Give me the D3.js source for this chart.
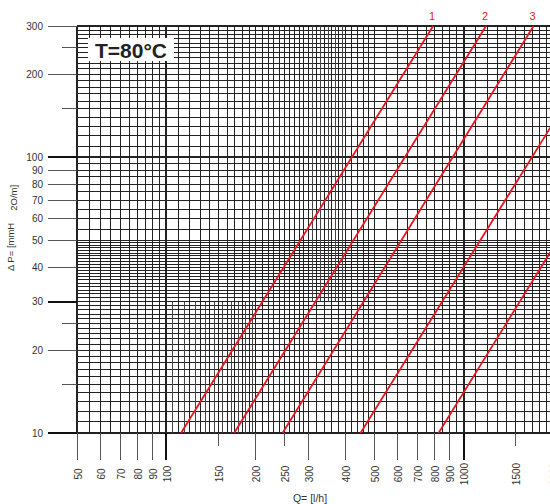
<!DOCTYPE html>
<html>
<head>
<meta charset="utf-8">
<script src="https://cdn.jsdelivr.net/npm/d3@7"></script>
<style>
  body { margin: 0; background: #fff; }
  svg { display: block; font-family: "Liberation Sans", Arial, sans-serif; }
</style>
</head>
<body>
<script>
// Pressure drop chart, log-log, T=80°C

const qTicks = [50, 60, 70, 80, 90, 100, 150, 200, 250, 300, 400, 500, 600, 700, 800, 900, 1000, 1500, 2000];
const qShortTicks = [150, 250, 1500];
const dpTicks = [10, 20, 30, 40, 50, 60, 70, 80, 90, 100, 200, 300];
const dpShortTicks = [15, 25, 150, 250];
const dpStrongTicks = [10, 30, 100];

// grid spacing per band: [from, to, step]
const qGridBands = [[50, 100, 5], [100, 300, 10], [300, 500, 20], [500, 1000, 50], [1000, 2000, 100]];
const qGridLowerBands = [[105, 195, 10]];   // extra lines, dP 10..30
const qGridUpperBands = [[310, 390, 20]];   // extra lines, dP 30..300
const dpGridBands = [[10, 50, 1], [50, 100, 5], [100, 300, 10]];

const curveLabels = ["1", "2", "3", "4", "5"];
const curveStart = [[112, 10], [169, 10], [246, 10], [450, 10], [824, 10]];
const curveEnd = [[790, 300], [1190, 300], [1720, 300], [2000, 133], [2000, 47]];

const width = 550, height = 504;
const plotLeft = 77, plotRight = 553, plotTop = 26, plotBottom = 433;

const svg = d3.select("body").append("svg")
  .attr("width", width)
  .attr("height", height);

const x = d3.scaleLog().domain([50, 2000]).range([plotLeft, plotRight]);
const y = d3.scaleLog().domain([10, 300]).range([plotBottom, plotTop]);

function bandValues(bands) {
  const vals = [];
  bands.forEach(([a, b, s]) => {
    d3.range(a, b + 0.001, s).forEach((v) => vals.push(v));
  });
  return Array.from(new Set(vals));
}

const grid = svg.append("g").attr("shape-rendering", "crispEdges");

// horizontal grid
grid.selectAll("line.h")
  .data(bandValues(dpGridBands))
  .enter().append("line")
  .attr("class", "h")
  .attr("x1", plotLeft).attr("x2", plotRight)
  .attr("y1", (d) => y(d)).attr("y2", (d) => y(d))
  .attr("stroke", "#222")
  .attr("stroke-width", (d) => (d === 10 || d === 100 || d === 300 ? 2 : 1));

// vertical grid
grid.selectAll("line.v")
  .data(bandValues(qGridBands))
  .enter().append("line")
  .attr("class", "v")
  .attr("x1", (d) => x(d)).attr("x2", (d) => x(d))
  .attr("y1", plotTop).attr("y2", plotBottom)
  .attr("stroke", "#222")
  .attr("stroke-width", (d) => (d === 50 || d === 100 || d === 1000 ? 2 : 1));

grid.selectAll("line.vl")
  .data(bandValues(qGridLowerBands))
  .enter().append("line")
  .attr("class", "vl")
  .attr("x1", (d) => x(d)).attr("x2", (d) => x(d))
  .attr("y1", y(30)).attr("y2", plotBottom)
  .attr("stroke", "#444")
  .attr("stroke-width", 1);

grid.selectAll("line.vu")
  .data(bandValues(qGridUpperBands))
  .enter().append("line")
  .attr("class", "vu")
  .attr("x1", (d) => x(d)).attr("x2", (d) => x(d))
  .attr("y1", plotTop).attr("y2", y(30))
  .attr("stroke", "#444")
  .attr("stroke-width", 1);

// x ticks below plot
svg.selectAll("line.xt")
  .data(qTicks)
  .enter().append("line")
  .attr("class", "xt")
  .attr("shape-rendering", "crispEdges")
  .attr("x1", (d) => x(d)).attr("x2", (d) => x(d))
  .attr("y1", plotBottom)
  .attr("y2", (d) => (qShortTicks.includes(d) ? 446 : 460))
  .attr("stroke", (d) => (d === 100 || d === 1000 ? "#111" : "#555"))
  .attr("stroke-width", (d) => (d === 100 || d === 1000 ? 2 : 1));

svg.selectAll("text.xl")
  .data(qTicks)
  .enter().append("text")
  .attr("class", "xl")
  .attr("transform", (d) => `translate(${x(d) + 1},474) rotate(-90)`)
  .attr("text-anchor", "middle")
  .attr("dy", "0.35em")
  .attr("font-size", "10px")
  .attr("fill", "#333")
  .text((d) => d);

// y ticks left of plot
svg.selectAll("line.yt")
  .data(dpTicks.concat(dpShortTicks))
  .enter().append("line")
  .attr("class", "yt")
  .attr("shape-rendering", "crispEdges")
  .attr("x1", (d) => (dpShortTicks.includes(d) ? 62 : 48))
  .attr("x2", plotLeft)
  .attr("y1", (d) => y(d)).attr("y2", (d) => y(d))
  .attr("stroke", (d) => (dpStrongTicks.includes(d) ? "#111" : "#555"))
  .attr("stroke-width", (d) => (dpStrongTicks.includes(d) ? 2 : 1));

svg.selectAll("text.yl")
  .data(dpTicks)
  .enter().append("text")
  .attr("class", "yl")
  .attr("x", 43)
  .attr("y", (d) => y(d))
  .attr("dy", "0.35em")
  .attr("text-anchor", "end")
  .attr("font-size", "10px")
  .attr("fill", "#333")
  .text((d) => d);

// curves
const clip = svg.append("clipPath").attr("id", "plot-clip");
clip.append("rect").attr("x", plotLeft).attr("y", plotTop - 1)
  .attr("width", plotRight - plotLeft).attr("height", plotBottom - plotTop + 1);

const curves = curveLabels.map((name, i) => ({ name, pts: [curveStart[i], curveEnd[i]] }));

const line = d3.line().x((d) => x(d[0])).y((d) => y(d[1]));

svg.append("g").attr("clip-path", "url(#plot-clip)")
  .selectAll("path")
  .data(curves)
  .enter().append("path")
  .attr("d", (d) => line(d.pts))
  .attr("fill", "none")
  .attr("stroke", "#e8141f")
  .attr("stroke-width", 1.8);

svg.selectAll("text.cl")
  .data(curves.filter((d) => d.pts[1][1] === 300))
  .enter().append("text")
  .attr("class", "cl")
  .attr("x", (d) => x(d.pts[1][0]) - 1)
  .attr("y", 20)
  .attr("text-anchor", "middle")
  .attr("font-size", "11px")
  .attr("fill", "#e8141f")
  .text((d) => d.name);

// title box
svg.append("rect")
  .attr("x", 88).attr("y", 38)
  .attr("width", 86).attr("height", 23)
  .attr("fill", "#fff");

svg.append("text")
  .attr("x", 131).attr("y", 58)
  .attr("text-anchor", "middle")
  .attr("font-size", "21px")
  .attr("font-weight", "bold")
  .attr("fill", "#222")
  .text("T=80°C");

// axis titles
const yTitle = svg.append("text")
  .attr("transform", "translate(14,228) rotate(-90)")
  .attr("text-anchor", "middle")
  .attr("font-size", "9.5px")
  .attr("fill", "#333");
yTitle.append("tspan").text("Δ P= [mmH");
yTitle.append("tspan").attr("dx", 12).attr("dy", 3).text("2O/m]");

svg.append("text")
  .attr("x", 310).attr("y", 502)
  .attr("text-anchor", "middle")
  .attr("font-size", "10.5px")
  .attr("fill", "#333")
  .text("Q= [l/h]");
</script>
</body>
</html>
